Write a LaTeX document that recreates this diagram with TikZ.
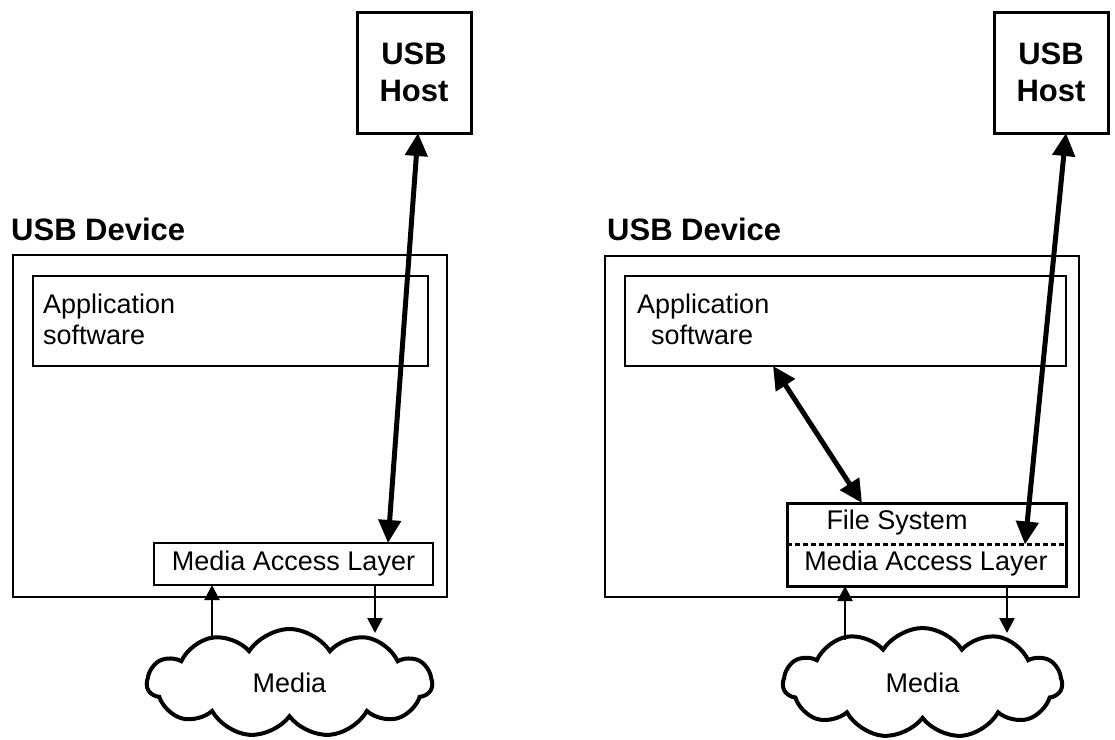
\documentclass[tikz,border=0pt]{standalone}
\usepackage{fontspec}
\setmainfont{Liberation Sans}
\usetikzlibrary{arrows.meta,shapes.symbols}

\tikzset{
  box/.style={draw,line width=2.5pt,inner sep=0pt,outer sep=0pt},
  hostbox/.style={box,line width=3pt,minimum width=114pt,minimum height=121pt,
    align=center,font=\fontsize{31}{37}\selectfont\bfseries},
  devbox/.style={box,line width=2pt},
  title/.style={anchor=base west,inner sep=0pt,font=\fontsize{31}{36}\selectfont\bfseries},
  label/.style={inner sep=0pt,font=\fontsize{27}{31}\selectfont},
  media/.style={draw,line width=4pt,cloud,cloud puffs=11,cloud puff arc=115,
    cloud ignores aspect,inner sep=0pt,font=\fontsize{27}{31}\selectfont},
  bigarrow/.style={line width=5pt,{Triangle[length=23pt,width=22pt]}-{Triangle[length=23pt,width=22pt]}},
  smallarrow/.style={line width=2.5pt,-{Triangle[length=15pt,width=15pt]}},
}

\begin{document}
\begin{tikzpicture}[x=1pt,y=-1pt]
\useasboundingbox (0,0) rectangle (1115,739);

%left: without file system
\node[hostbox] (hostL) at (414,72.5) {USB\\Host};
\node[title] (devlabelL) at (11,240) {USB Device};
\node[devbox,minimum width=434pt,minimum height=342pt] (devL) at (230,426) {};
\node[box,minimum width=395pt,minimum height=90pt] (appL) at (230.5,321) {};
\node[label,anchor=base west,align=left] (apptextL) at (43,344) {Application\\software};
\node[box,label,minimum width=279pt,minimum height=42pt] (malL) at (293.5,564) {Media Access Layer};
\node[media,minimum width=285pt,minimum height=108pt] (cloudL) at (289.5,683) {Media};
% Host <-> Media Access Layer
\draw[bigarrow] ([xshift=4pt]hostL.south) -- ([xshift=94.5pt]malL.north);
% Media <-> Media Access Layer
\coordinate (upL) at (212,640);
\coordinate (downL) at (375,633);
\draw[smallarrow] (upL) -- (upL |- malL.south);
\draw[smallarrow] (downL |- malL.south) -- (downL);

%right: with file system
\node[hostbox] (hostR) at (1051,72.5) {USB\\Host};
\node[title] (devlabelR) at (607,240) {USB Device};
\node[devbox,minimum width=474pt,minimum height=341pt] (devR) at (842,426.5) {};
\node[box,minimum width=441pt,minimum height=90pt] (appR) at (845.5,321) {};
\node[label,anchor=base west,align=left] (apptextR) at (637,344) {Application\\\hspace*{14pt}software};
\node[box,line width=3pt,minimum width=279pt,minimum height=83pt] (fsR) at (926.5,544.5) {};
\draw[line width=2.2pt,dash pattern=on 5pt off 3pt] (fsR.west) -- (fsR.east);
\node[label] (fstext) at (897,523) {File System};
\node[label] (maltextR) at (926,564) {Media Access Layer};
\node[media,minimum width=279pt,minimum height=110pt] (cloudR) at (922.5,683) {Media};
% Host <-> File System
\draw[bigarrow] ([xshift=15pt]hostR.south) -- ([xshift=98.5pt]fsR.center);
% Application <-> File System
\draw[bigarrow] ([xshift=-72.5pt]appR.south) -- ([xshift=-64.5pt]fsR.north);
% Media <-> Media Access Layer
\coordinate (upR) at (845,640);
\coordinate (downR) at (1007,633);
\draw[smallarrow] (upR) -- (upR |- fsR.south);
\draw[smallarrow] (downR |- fsR.south) -- (downR);
\end{tikzpicture}
\end{document}
